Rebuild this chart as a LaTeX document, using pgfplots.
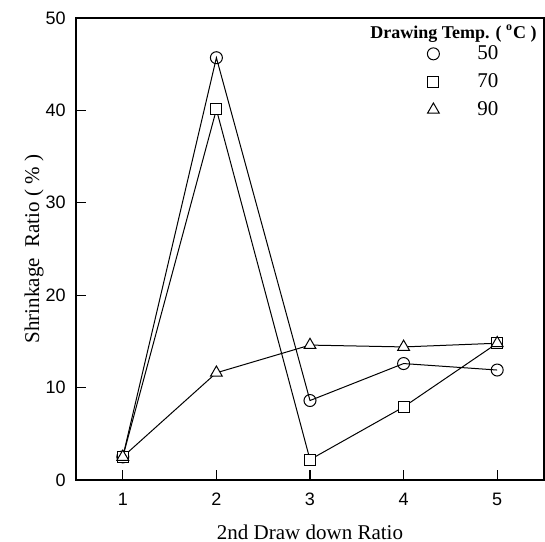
\documentclass[border=0pt]{standalone}
\usepackage{fontspec}
\setmainfont{Liberation Serif}
\newfontfamily\arialfont{Liberation Sans}
\usepackage{pgfplots}
\pgfplotsset{compat=1.18}

\begin{document}
\begin{tikzpicture}
\begin{axis}[
  scale only axis, width=234pt, height=231pt,
  xmin=0.5, xmax=5.5, ymin=0, ymax=50,
  xtick={1,2,3,4,5}, ytick={0,10,20,30,40,50},
  tick align=inside, xtick pos=bottom, ytick pos=left,
  major tick length=5pt,
  axis line style={line width=0.6pt},
  tick style={line width=0.6pt, black},
  ticklabel style={font=\arialfont\fontsize{9}{10}\selectfont},
  xticklabel style={yshift=-3pt},
  yticklabel style={xshift=-1.7pt},
  /pgf/number format/assume math mode=true,
  xlabel={2nd Draw down Ratio},
  ylabel={Shrinkage\ \ Ratio ( \% )},
  label style={font=\fontsize{10.5}{12}\selectfont},
  xlabel style={at={(axis description cs:0.5,0)}, anchor=base, yshift=-30pt},
  ylabel style={at={([xshift=-21pt]axis description cs:0,0.5)}, anchor=center},
  every axis plot/.append style={black, line width=0.5pt,
    mark options={solid, fill=white, line width=0.5pt}},
  legend style={at={(rel axis cs:0.7372,0.9416)}, anchor=north west,
    draw=none, fill=none, inner sep=0pt, row sep=5.5pt,
    nodes={inner sep=0pt}, font=\fontsize{10.5}{12}\selectfont},
  legend cell align=left,
  legend image code/.code={
    \draw[#1, only marks] plot coordinates {(6pt,0pt)};
    \path[draw=none, fill=none] (0pt,-4pt) rectangle (28pt,4pt);
  },
]
\addplot[mark=o, mark size=3pt] coordinates {
  (1,2.5) (2,45.7) (3,8.6) (4,12.6) (5,11.9)
};
\addlegendentry{50}
\addplot[mark=square*, mark size=2.75pt] coordinates {
  (1,2.5) (2,40.1) (3,2.2) (4,7.9) (5,14.8)
};
\addlegendentry{70}
\addplot[mark=triangle*, mark size=3.4pt] coordinates {
  (1,2.5) (2,11.6) (3,14.6) (4,14.4) (5,14.8)
};
\addlegendentry{90}
\node[font=\bfseries\fontsize{9}{10}\selectfont] at (rel axis cs:0.8066,0.9654)
  {Drawing Temp. ( \textsuperscript{o}C )};
\coordinate (ll) at (rel axis cs:0,0);
\coordinate (ur) at (rel axis cs:1,1);
\end{axis}
\pgfresetboundingbox
\path ([shift={(-38pt,-31pt)}]ll) rectangle ([shift={(0.5pt,9pt)}]ur);
\end{tikzpicture}
\end{document}
